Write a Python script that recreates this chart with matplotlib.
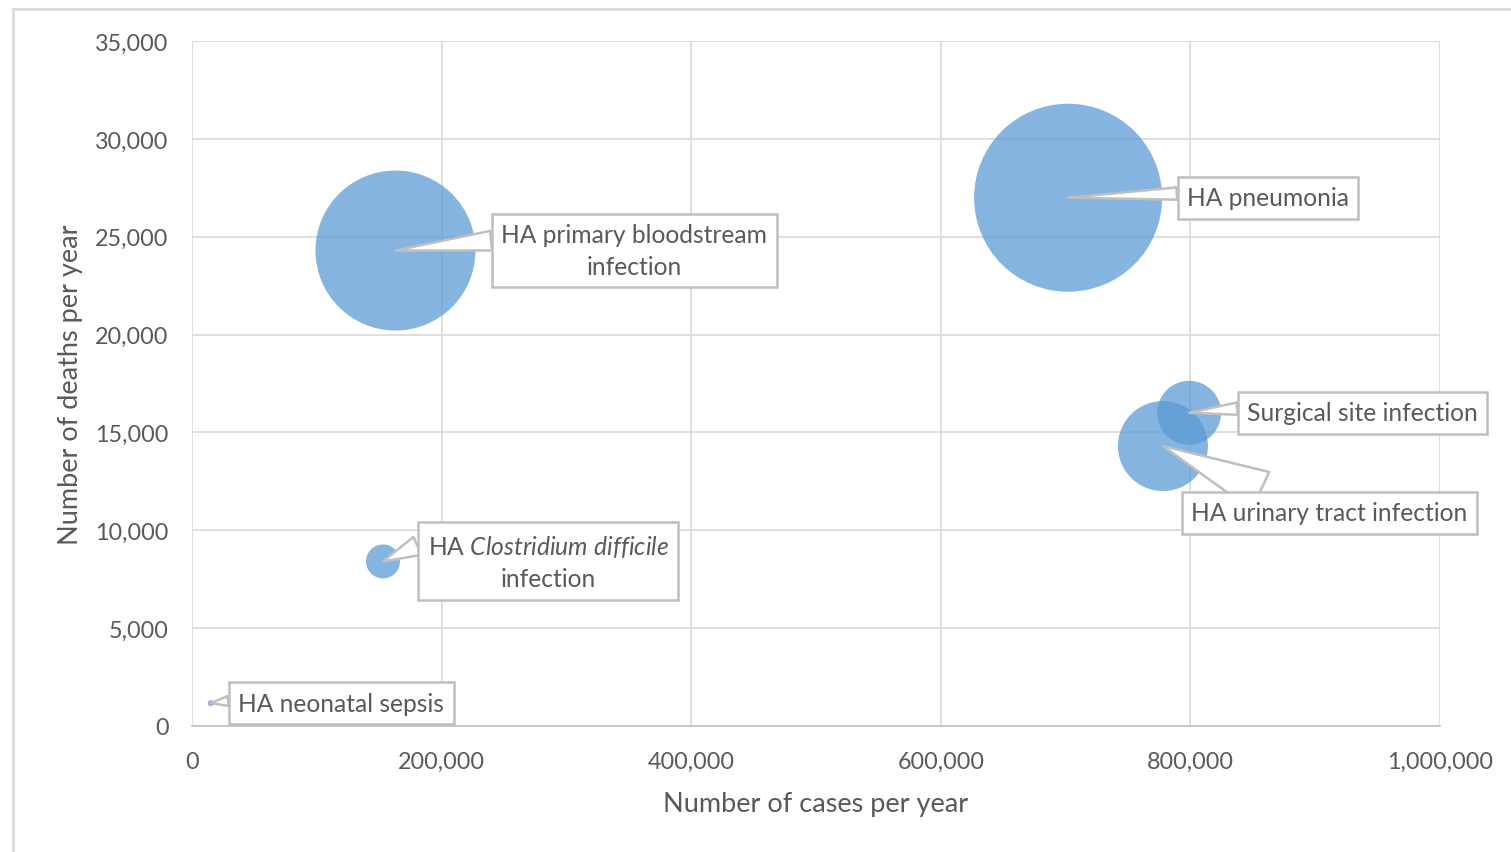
import numpy as np
import matplotlib.pyplot as plt
from matplotlib.patches import Rectangle
from matplotlib.ticker import FuncFormatter

# data
infections = ['HA pneumonia', 'HA primary bloodstream\ninfection',
              'HA urinary tract infection', 'Surgical site infection',
              'HA $\\mathit{Clostridium\\ difficile}$\ninfection',
              'HA neonatal sepsis']
cases = [702000, 163000, 778000, 799000, 153000, 15000]
deaths = [27000, 24300, 14300, 16000, 8400, 1150]
burden = [94, 80, 45, 32, 17, 3]   # bubble size (relative)

# label placement (offset in points, start and width of the callout wedge)
label_offset = [(144, 0), (172, 0), (120, -48), (125, 0), (119, 0), (94, 0)]
wedge_rel = [(0, 0.7), (0, 0.7), (0.33, 1), (0, 0.72), (0, 0.85), (0, 0.65)]
wedge_w = [0.5, 0.8, 1.7, 0.5, 0.8, 0.4]

plt.rcParams['font.family'] = ['Lato', 'DejaVu Sans']
plt.rcParams['mathtext.fontset'] = 'custom'
plt.rcParams['mathtext.it'] = 'Lato:italic'
plt.rcParams['mathtext.rm'] = 'Lato'

txt = '#595959'
grid = '#D9D9D9'
dpi = 100

fig = plt.figure(figsize=(15.11, 8.53), dpi=dpi)
ax = fig.add_axes([0.1271, 0.1481, 0.8259, 0.8023])

# outer chart border (only left/top visible in the crop)
fig.patches.append(Rectangle((13 / 1511, -0.5), 2, 1.5 - 10 / 853, transform=fig.transFigure,
                             fill=False, ec=grid, lw=2))

max_r = 94  # px
sizes = [(2 * max_r * b / max(burden) * 72 / dpi) ** 2 for b in burden]
ax.scatter(cases, deaths, s=sizes, color='#5B9BD5', alpha=0.75, lw=0, zorder=3)

for name, x, y, off, rel, w in zip(infections, cases, deaths, label_offset, wedge_rel, wedge_w):
    ax.annotate(name, (x, y), xytext=off, textcoords='offset points',
                ha='center', va='center', fontsize=17.7, color=txt,
                linespacing=1.45, zorder=5,
                bbox=dict(boxstyle='square,pad=0.38', fc='white', ec='#BFBFBF', lw=1.8),
                arrowprops=dict(arrowstyle=f'wedge,tail_width={w},shrink_factor=0.5',
                                fc='white', ec='#BFBFBF', lw=1.8,
                                shrinkA=0, shrinkB=0, relpos=rel))

ax.set_xlim(0, 1000000)
ax.set_ylim(0, 35000)
ax.set_xticks(np.arange(0, 1000001, 200000))
ax.set_yticks(np.arange(0, 35001, 5000))
fmt = FuncFormatter(lambda v, p: f'{int(v):,}')
ax.xaxis.set_major_formatter(fmt)
ax.yaxis.set_major_formatter(fmt)
ax.grid(True, color=grid, lw=1.2)
ax.set_axisbelow(True)
for s in ['top', 'right', 'left']:
    ax.spines[s].set_visible(False)
ax.spines['bottom'].set_color('#BFBFBF')
ax.spines['bottom'].set_linewidth(1.2)
ax.tick_params(length=0, labelsize=16.8, labelcolor=txt)
ax.tick_params(axis='x', pad=18)
ax.tick_params(axis='y', pad=17)

ax.set_xlabel('Number of cases per year', fontsize=19.5, color=txt, labelpad=14)
ax.set_ylabel('Number of deaths per year', fontsize=19.5, color=txt, labelpad=9)

fig.savefig('out.png', dpi=dpi)
